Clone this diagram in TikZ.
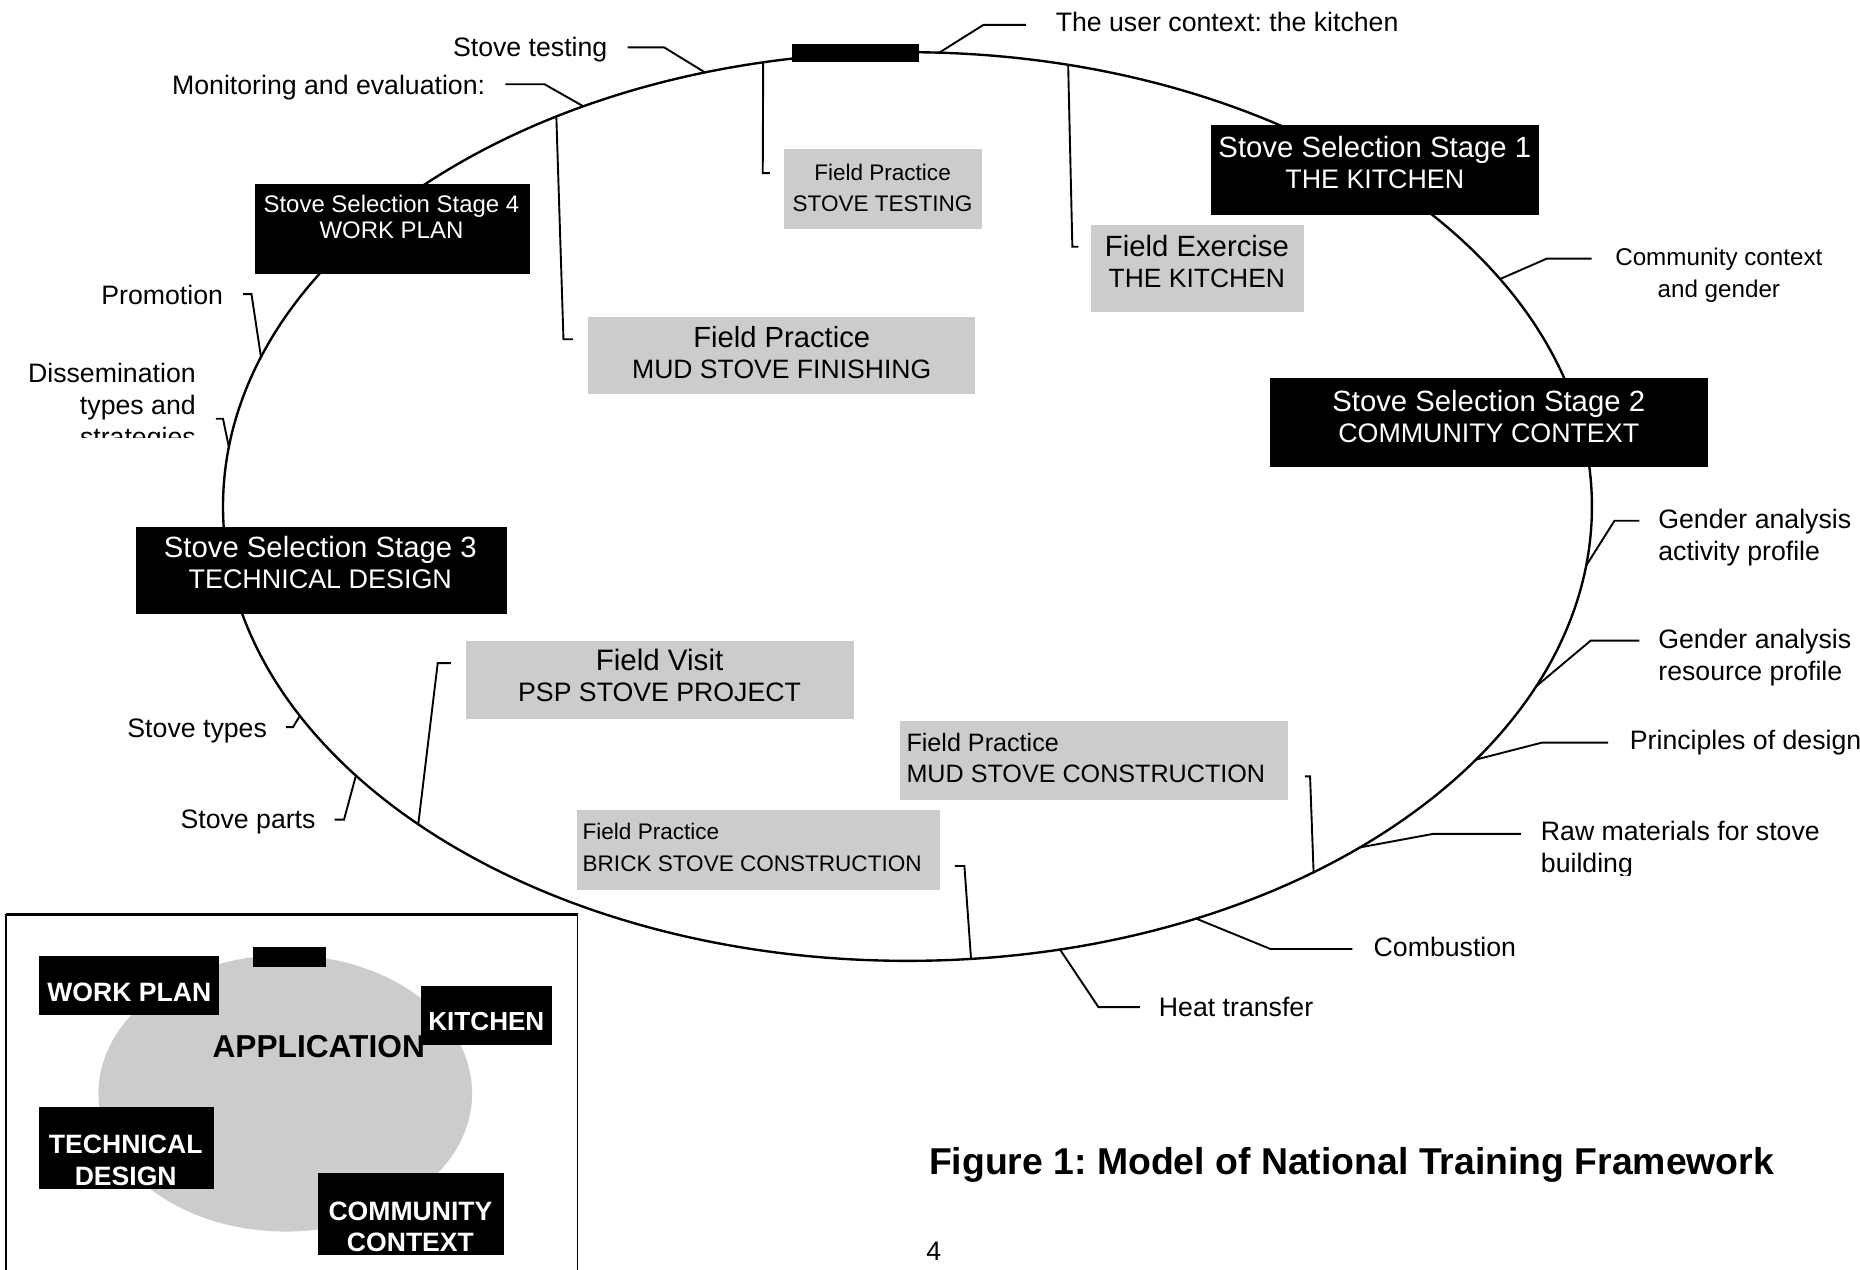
\documentclass[tikz,border=0pt]{standalone}
\usepackage{fontspec}
\setmainfont{Liberation Sans}
\usetikzlibrary{calc,shapes.geometric}
\definecolor{boxgrey}{HTML}{CCCCCC}
\newcommand{\mylines}[2]{\begin{tabular}[t]{@{}#1@{}}#2\end{tabular}}
\newcommand{\myfs}[2]{\fontsize{#1}{#2}\selectfont}
\frenchspacing
\begin{document}
\begin{tikzpicture}[x=1pt,y=-1pt,
  lead/.style={line width=1.6pt},
  lbl/.style={inner sep=0pt, outer sep=0pt, font=\myfs{22.5}{27}},
  stagebox/.style={fill=black, inner sep=0pt, outer sep=0pt},
  greybox/.style={fill=boxgrey, inner sep=0pt, outer sep=0pt},
  stagetext/.style={inner sep=0pt, text=white, anchor=base, font=\myfs{24.7}{26}},
  greytext/.style={inner sep=0pt, anchor=base},
  insetbox/.style={fill=black, inner sep=0pt, outer sep=0pt},
  insettext/.style={inner sep=0pt, text=white, anchor=base, font=\bfseries\myfs{22.4}{27}}]
\useasboundingbox (0,0) rectangle (1568,1070);
\fill[white] (0,0) rectangle (1568,1070);
\begin{scope}
\clip (0,0) rectangle (1568,1070);

% main cycle
\node[draw, ellipse, line width=2pt, minimum width=1154pt, minimum height=766pt, inner sep=0pt, outer sep=0pt] (E) at (765,427) {};

% outside labels
\node[lbl, anchor=base west] (luser) at (890,26.5) {The user context: the kitchen};
\node[lbl, anchor=base east] (lst) at (512,47.5) {Stove testing};
\node[lbl, anchor=base east] (lmon) at (409,79.5) {Monitoring and evaluation:};
\node[lbl, anchor=base east] (lprom) at (188,256.5) {Promotion};
\begin{scope}
\clip (0,290) rectangle (200,369);
\node[lbl, anchor=base east] (ldis) at (165,322.5) {\mylines{r}{Dissemination\\types and\\strategies}};
\end{scope}
\coordinate (dissT) at (182,353);
\node[lbl, anchor=base east] (ltypes) at (225,621.5) {Stove types};
\node[lbl, anchor=base east] (lparts) at (266,698.5) {Stove parts};
\node[lbl, anchor=base, font=\myfs{20.4}{27}] (lcom) at (1449,224) {\mylines{c}{Community context\\and gender}};
\node[lbl, anchor=base west] (lga) at (1398,445.5) {\mylines{l}{Gender analysis\\activity profile}};
\node[lbl, anchor=base west] (lgr) at (1398,546.5) {\mylines{l}{Gender analysis\\resource profile}};
\node[lbl, anchor=base west] (lprin) at (1374,631.5) {Principles of design};
\begin{scope}
\clip (1280,680) rectangle (1568,738);
\node[lbl, anchor=base west] (lraw) at (1299,708.5) {\mylines{l}{Raw materials for stove\\building}};
\end{scope}
\node[lbl, anchor=base west] (lcomb) at (1158,806.5) {Combustion};
\node[lbl, anchor=base west] (lheat) at (977,856.5) {Heat transfer};

% boxes on the cycle
\node[stagebox, minimum width=107pt, minimum height=15pt] (bar) at (721.5,44.5) {};
\node[stagebox, minimum width=276pt, minimum height=76pt] (st1) at (1159,143) {};
\node[stagebox, minimum width=369pt, minimum height=75pt] (st2) at (1255.5,356.5) {};
\node[stagebox, minimum width=312pt, minimum height=74pt] (st3) at (271,481) {};
\node[stagebox, minimum width=232pt, minimum height=76pt] (st4) at (331,193) {};
\node[stagetext] (st1t) at (1159,133) {\mylines{c}{Stove Selection Stage 1\\\myfs{22.6}{26}THE KITCHEN}};
\node[stagetext] (st2t) at (1255,347) {\mylines{c}{Stove Selection Stage 2\\\myfs{22.6}{26}COMMUNITY CONTEXT}};
\node[stagetext] (st3t) at (270,470) {\mylines{c}{Stove Selection Stage 3\\\myfs{22.7}{26}TECHNICAL DESIGN}};
\node[stagetext, font=\myfs{20.2}{22}] (st4t) at (330,179.3) {\mylines{c}{Stove Selection Stage 4\\WORK PLAN}};

% grey field boxes
\node[greybox, minimum width=167pt, minimum height=67pt] (fst) at (744.5,159.5) {};
\node[greybox, minimum width=179pt, minimum height=73pt] (fex) at (1009.5,226.5) {};
\node[greybox, minimum width=326pt, minimum height=65pt] (fmf) at (659,299.5) {};
\node[greybox, minimum width=327pt, minimum height=66pt] (fv) at (556.5,573) {};
\node[greybox, minimum width=327pt, minimum height=66pt] (fmc) at (922.5,641) {};
\node[greybox, minimum width=306pt, minimum height=67pt] (fbs) at (639,716.5) {};
\node[greytext, font=\myfs{19}{26}] (fstt) at (744,152) {\mylines{c}{Field Practice\\STOVE TESTING}};
\node[greytext, font=\myfs{24.7}{26}] (fext) at (1009,216) {\mylines{c}{Field Exercise\\\myfs{22.3}{26}THE KITCHEN}};
\node[greytext, font=\myfs{24.6}{26}] (fmft) at (659,293) {\mylines{c}{Field Practice\\\myfs{22.4}{26}MUD STOVE FINISHING}};
\node[greytext, font=\myfs{24.9}{26}] (fvt) at (556,565.6) {\mylines{c}{Field Visit\\\myfs{22.5}{26}PSP STOVE PROJECT}};
\node[greytext, anchor=base west, font=\myfs{21.2}{26}] (fmct) at (764,633.6) {\mylines{l}{Field Practice\\MUD STOVE CONSTRUCTION}};
\node[greytext, anchor=base west, font=\myfs{19}{27}] (fbst) at (491,707.8) {\mylines{l}{Field Practice\\BRICK STOVE CONSTRUCTION}};

% leaders
\draw[lead] (E.86.6) -- (829,21) -- ($(luser.base west)+(-25,-5.5)$);
\draw[lead] (E.115.9) -- (560,40) -- ($(lst.base east)+(17,-7.5)$);
\draw[lead] (E.129.6) -- (459,71) -- ($(lmon.base east)+(17,-8.5)$);
\draw[lead] ($(lprom.base east)+(17,-8.5)$) -- (212,248) -- (E.167.8);
\draw[lead] (dissT) -- (188,353) -- (E.175.2);
\draw[lead] ($(ltypes.base east)+(16,-8.5)$) -- (247,613) -- (E.199.1);
\draw[lead] ($(lparts.base east)+(16,-7.5)$) -- (290,691) -- (E.206.6);
\draw[lead] ($(fv.north west)+(-13,19)$) -- ++(-11,0) -- (E.213.8);
\draw[lead] (E.108.8) -- (643,146) -- ($(fst.north west)+(-12,20)$);
\draw[lead] (E.70.5) -- (904,208) -- ($(fex.north west)+(-11,18)$);
\draw[lead] (E.132.3) -- (475,286) -- ($(fmf.north west)+(-13,19)$);
\draw[lead] ($(fmc.north east)+(14,46.5)$) -- (1104.4,654.5) -- (E.318.4);
\draw[lead] ($(fbs.north east)+(13,47)$) -- (813,730) -- (E.278.5);
\draw[lead] (E.289.8) -- (926,849) -- ($(lheat.base west)+(-16,-7.5)$);
\draw[lead] (E.305.2) -- (1071,800) -- ($(lcomb.base west)+(-18,-6.5)$);
\draw[lead] (E.323.0) -- (1208,703) -- ($(lraw.base west)+(-17,-5.5)$);
\draw[lead] (E.336.85) -- (1300,626) -- ($(lprin.base west)+(-18.4,-5.5)$);
\draw[lead] (E.344.6) -- (1341,540) -- ($(lgr.base west)+(-16,-6.5)$);
\draw[lead] (E.355) -- (1361,439) -- ($(lga.base west)+(-16,-6.5)$);
\draw[lead] (E.21.15) -- (1304,218) -- ($(lcom.base west)+(-20,-6)$);

% caption and page number
\node[inner sep=0pt, anchor=base west, font=\bfseries\myfs{31.5}{36}] (cap) at (783,990.3) {Figure 1: Model of National Training Framework};
\node[lbl, anchor=base west] (pnum) at (781,1063) {4};

% inset
\node[draw, line width=1.2pt, minimum width=482pt, minimum height=330pt, inner sep=0pt, outer sep=0pt, anchor=north west] (inset) at (5,771) {};
\draw[line width=2.5pt] (inset.north west) -- (inset.north east);
\node[fill=boxgrey, ellipse, minimum width=315pt, minimum height=233pt, inner sep=0pt] (appE) at (240.5,921.7) {};
\node[inner sep=0pt, anchor=base west, font=\bfseries\myfs{26.7}{30}] (appT) at (179,891.6) {APPLICATION};
\node[insetbox, minimum width=62pt, minimum height=17pt] (ibar) at (244,806.5) {};
\node[insetbox, minimum width=152pt, minimum height=50pt] (iwp) at (109,831) {};
\node[insetbox, minimum width=110pt, minimum height=50pt] (iki) at (410,856) {};
\node[insetbox, minimum width=147pt, minimum height=69pt] (itd) at (106.5,967.5) {};
\node[insetbox, minimum width=157pt, minimum height=69pt] (icc) at (346.5,1023.5) {};
\node[insettext] (iwpt) at (109,844) {WORK PLAN};
\node[insettext, font=\bfseries\myfs{22}{27}] (ikit) at (410,869) {KITCHEN};
\node[insettext] (itdt) at (106,972) {\mylines{c}{TECHNICAL\\DESIGN}};
\begin{scope}
\clip (icc.south west) rectangle (icc.north east);
\node[insettext, font=\bfseries\myfs{22.4}{26}] (icct) at (346,1029) {\mylines{c}{COMMUNITY\\CONTEXT}};
\end{scope}
\end{scope}
\end{tikzpicture}
\end{document}
